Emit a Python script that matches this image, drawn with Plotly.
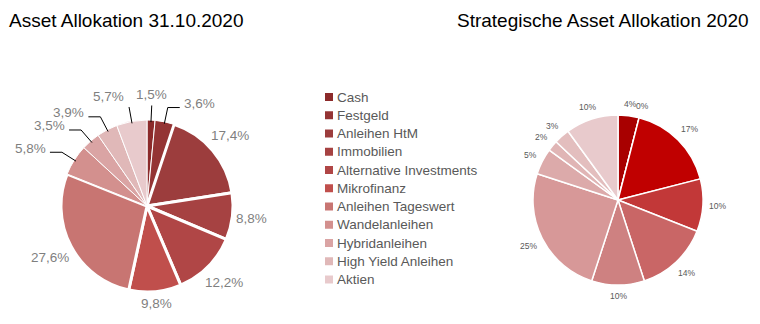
import math
import plotly.graph_objects as go

categories = ["Cash", "Festgeld", "Anleihen HtM", "Immobilien", "Alternative Investments",
              "Mikrofinanz", "Anleihen Tageswert", "Wandelanleihen", "Hybridanleihen",
              "High Yield Anleihen", "Aktien"]
ist_values = [1.5, 3.6, 17.4, 8.8, 12.2, 9.8, 27.6, 5.8, 3.5, 3.9, 5.7]
ist_labels = ["1,5%", "3,6%", "17,4%", "8,8%", "12,2%", "9,8%", "27,6%", "5,8%", "3,5%", "3,9%", "5,7%"]
strat_values = [4, 0, 17, 10, 14, 10, 25, 5, 2, 3, 10]
strat_labels = ["4%", "0%", "17%", "10%", "14%", "10%", "25%", "5%", "2%", "3%", "10%"]

ist_colors = ["#8C2A2A", "#943434", "#9C3D3D", "#A64242", "#B04646", "#C04F4C",
              "#C87572", "#D3908E", "#DAA4A4", "#E0B8B8", "#E8CACC"]
strat_colors = ["#A80000", "#B80000", "#C00000", "#C23838", "#C96666", "#CE8181",
                "#D79898", "#DCAAAA", "#E0B5B5", "#E3BEBE", "#E8CACC"]

W, H = 760, 324
FONT = "Liberation Sans, Arial"

# pie geometry (pixels)
L_CX, L_CY, L_R = 147, 206, 86
R_CX, R_CY, R_R = 618, 200, 85


def px(x):
    return x / W


def py(y):
    return 1 - y / H


def text_w(s, size):
    w = 0
    for ch in s:
        if ch.isdigit():
            w += 0.556
        elif ch == ",":
            w += 0.278
        elif ch == "%":
            w += 0.889
        else:
            w += 0.556
    return w * size


def mid_dirs(values):
    total = sum(values)
    cum = 0
    out = []
    for v in values:
        th = 2 * math.pi * (cum + v / 2) / total
        out.append((math.sin(th), -math.cos(th)))
        cum += v
    return out


fig = go.Figure()

left_widths = [1 if v < 5 else 3 for v in ist_values]
left_widths[7] = 1
left_widths[10] = 1
fig.add_trace(go.Pie(
    labels=categories, values=ist_values, text=ist_labels, textinfo="none",
    sort=False, direction="clockwise", rotation=0,
    marker=dict(colors=ist_colors, line=dict(color="white", width=left_widths)),
    domain=dict(x=[px(L_CX - L_R), px(L_CX + L_R)], y=[py(L_CY + L_R), py(L_CY - L_R)]),
    showlegend=False, hoverinfo="label+text",
))

fig.add_trace(go.Pie(
    labels=categories, values=strat_values, text=strat_labels, textinfo="none",
    sort=False, direction="clockwise", rotation=0,
    marker=dict(colors=strat_colors, line=dict(color="white", width=1.5)),
    domain=dict(x=[px(R_CX - R_R), px(R_CX + R_R)], y=[py(R_CY + R_R), py(R_CY - R_R)]),
    showlegend=False, hoverinfo="label+text",
))

annotations = []
shapes = []

# left pie labels
LSIZE = 13.5
LH = LSIZE * 1.15
for (ux, uy), v, lab in zip(mid_dirs(ist_values), ist_values, ist_labels):
    w = text_w(lab, LSIZE)
    if v >= 6:
        d = L_R + 3 + abs(ux) * w / 2 + abs(uy) * LH / 2
        annotations.append(dict(text=lab, x=px(L_CX + d * ux), y=py(L_CY + d * uy),
                                xref="paper", yref="paper", showarrow=False,
                                xanchor="center", yanchor="middle",
                                font=dict(size=LSIZE, color="#7F7F7F", family=FONT)))
    else:
        ax, ay = L_CX + (L_R - 2) * ux, L_CY + (L_R - 2) * uy
        bx, by = L_CX + 1.17 * L_R * ux, L_CY + 1.17 * L_R * uy
        if abs(ux) < 0.19:
            path = f"M {px(ax)},{py(ay)} L {px(bx)},{py(by)}"
            xa = "center" if abs(ux) < 0.1 else ("right" if ux < 0 else "left")
            tx = bx + (w / 2 - 2 if xa == "left" else (-w / 2 + 2 if xa == "right" else 0))
            tx = bx if xa == "center" else (bx - 3 if ux < 0 else bx + 3)
            annotations.append(dict(text=lab, x=px(tx), y=py(by - 1),
                                    xref="paper", yref="paper", showarrow=False,
                                    xanchor=xa, yanchor="bottom",
                                    font=dict(size=LSIZE, color="#7F7F7F", family=FONT)))
        else:
            s = 1 if ux > 0 else -1
            cx_ = bx + s * 12
            path = f"M {px(ax)},{py(ay)} L {px(bx)},{py(by)} L {px(cx_)},{py(by)}"
            annotations.append(dict(text=lab, x=px(cx_ + s * 2), y=py(by - 4),
                                    xref="paper", yref="paper", showarrow=False,
                                    xanchor="left" if s > 0 else "right", yanchor="middle",
                                    font=dict(size=LSIZE, color="#7F7F7F", family=FONT)))
        shapes.append(dict(type="path", path=path, xref="paper", yref="paper",
                           line=dict(color="#000000", width=1)))

# right pie labels
RSIZE = 8.5
RH = RSIZE * 1.15
for (ux, uy), lab in zip(mid_dirs(strat_values), strat_labels):
    w = text_w(lab, RSIZE)
    d = R_R + 6 + abs(ux) * w / 2 + abs(uy) * RH / 2
    annotations.append(dict(text=lab, x=px(R_CX + d * ux), y=py(R_CY + d * uy),
                            xref="paper", yref="paper", showarrow=False,
                            xanchor="center", yanchor="middle",
                            font=dict(size=RSIZE, color="#595959", family=FONT)))

# legend
LEG_X, LEG_Y0, LEG_DY = 325, 97, 18.25
for i, (cat, col) in enumerate(zip(categories, ist_colors)):
    yc = LEG_Y0 + i * LEG_DY
    shapes.append(dict(type="rect", xref="paper", yref="paper",
                       x0=px(LEG_X), x1=px(LEG_X + 8), y0=py(yc + 4), y1=py(yc - 4),
                       fillcolor=col, line=dict(width=0)))
    annotations.append(dict(text=cat, x=px(LEG_X + 10), y=py(yc), xref="paper", yref="paper",
                            showarrow=False, xanchor="left", yanchor="middle",
                            font=dict(size=13.5, color="#595959", family=FONT)))

# titles
annotations.append(dict(text="Asset Allokation 31.10.2020", x=px(7), y=py(21), xref="paper", yref="paper",
                        xanchor="left", yanchor="middle", showarrow=False,
                        font=dict(size=19, color="#000000", family=FONT)))
annotations.append(dict(text="Strategische Asset Allokation 2020", x=px(751), y=py(21), xref="paper",
                        yref="paper", xanchor="right", yanchor="middle", showarrow=False,
                        font=dict(size=19, color="#000000", family=FONT)))

fig.update_layout(
    width=W, height=H, margin=dict(l=0, r=0, t=0, b=0),
    paper_bgcolor="white", plot_bgcolor="white",
    font=dict(family=FONT),
    showlegend=False,
    annotations=annotations,
    shapes=shapes,
)

fig.write_html("out.html")
